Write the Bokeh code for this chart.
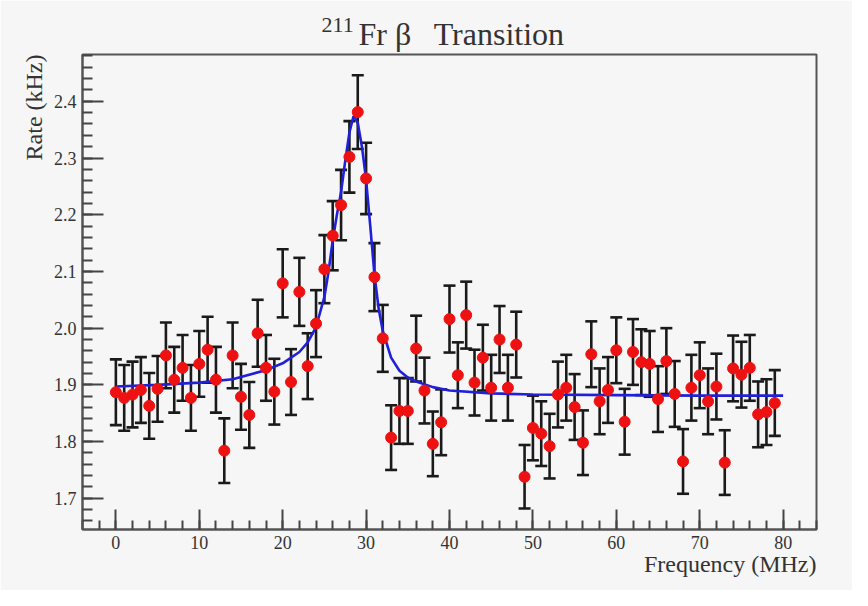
from bokeh.plotting import figure
from bokeh.models import ColumnDataSource, Whisker, TeeHead, Title, Range1d, FixedTicker
from bokeh.embed import file_html
from bokeh.resources import INLINE

# ---------------- data ----------------
freq = list(range(80))
rate = [1.887, 1.877, 1.883, 1.891, 1.863, 1.893, 1.952, 1.909, 1.930, 1.877,
        1.937, 1.962, 1.909, 1.784, 1.952, 1.879, 1.847, 1.991, 1.930, 1.888,
        2.079, 1.905, 2.064, 1.933, 2.008, 2.104, 2.163, 2.217, 2.302, 2.381,
        2.264, 2.090, 1.982, 1.807, 1.854, 1.854, 1.964, 1.890, 1.796, 1.834,
        2.016, 1.917, 2.023, 1.904, 1.948, 1.895, 1.980, 1.895, 1.971, 1.738,
        1.824, 1.814, 1.792, 1.883, 1.895, 1.861, 1.798, 1.954, 1.871, 1.891,
        1.961, 1.835, 1.958, 1.940, 1.937, 1.875, 1.942, 1.884, 1.765, 1.895,
        1.917, 1.871, 1.897, 1.763, 1.929, 1.918, 1.930, 1.848, 1.852, 1.868]
rate_err = [0.058, 0.058, 0.058, 0.058, 0.058, 0.058, 0.058, 0.058, 0.058, 0.058,
            0.058, 0.058, 0.058, 0.057, 0.058, 0.058, 0.058, 0.059, 0.058, 0.058,
            0.060, 0.058, 0.060, 0.058, 0.059, 0.060, 0.061, 0.062, 0.063, 0.065,
            0.063, 0.060, 0.059, 0.057, 0.058, 0.058, 0.058, 0.058, 0.057, 0.058,
            0.059, 0.058, 0.059, 0.058, 0.058, 0.058, 0.059, 0.058, 0.058, 0.056,
            0.057, 0.057, 0.057, 0.058, 0.058, 0.058, 0.057, 0.058, 0.058, 0.058,
            0.058, 0.058, 0.058, 0.058, 0.058, 0.058, 0.058, 0.058, 0.057, 0.058,
            0.058, 0.058, 0.058, 0.057, 0.058, 0.058, 0.058, 0.058, 0.058, 0.058]

# fitted curve
fit_x = [0, 5, 10, 14, 18, 20, 22, 23, 24, 25, 25.5, 26, 26.5, 27, 27.5, 28,
         28.5, 29, 29.5, 30, 30.5, 31, 31.5, 32, 33, 34, 35, 36, 38, 40, 45,
         50, 60, 70, 80]
fit_y = [1.897, 1.900, 1.904, 1.910, 1.926, 1.938, 1.958, 1.975, 2.002, 2.055,
         2.100, 2.155, 2.200, 2.240, 2.295, 2.345, 2.374, 2.362, 2.320, 2.262,
         2.180, 2.095, 2.035, 1.995, 1.948, 1.925, 1.913, 1.906, 1.896, 1.890,
         1.885, 1.883, 1.882, 1.881, 1.881]

x_ticks = [0, 10, 20, 30, 40, 50, 60, 70, 80]
y_ticks = [1.7, 1.8, 1.9, 2.0, 2.1, 2.2, 2.3, 2.4]

# ---------------- figure ----------------
BG = "#f6f6f6"
FONT = "Liberation Serif"
TXT = "#333333"
W, H = 852, 590
FL = 82   # frame left in canvas px

p = figure(width=W, height=H, output_backend="svg", toolbar_location=None,
           x_range=Range1d(-4, 84), y_range=Range1d(1.645, 2.4825),
           min_border_left=FL, min_border_right=36, min_border_top=54,
           min_border_bottom=61)
p.background_fill_color = BG
p.border_fill_color = BG
p.outline_line_color = "#555555"
p.outline_line_width = 2
p.grid.visible = False

for ax in (p.xaxis[0], p.yaxis[0]):
    ax.axis_line_color = "#555555"
    ax.axis_line_width = 2
    ax.major_tick_line_color = "#444444"
    ax.minor_tick_line_color = "#444444"
    ax.major_tick_line_width = 2
    ax.minor_tick_line_width = 2
    ax.major_tick_out = 0
    ax.minor_tick_out = 0
    ax.major_label_text_font = FONT
    ax.major_label_text_font_size = "18px"
    ax.major_label_text_color = TXT

p.xaxis.ticker = FixedTicker(ticks=x_ticks, minor_ticks=list(range(-4, 85, 2)))
p.yaxis.ticker = FixedTicker(ticks=y_ticks,
                             minor_ticks=[round(1.64 + 0.02 * i, 2) for i in range(43)])
p.xaxis.major_tick_in = 20
p.xaxis.minor_tick_in = 9
p.yaxis.major_tick_in = 21
p.yaxis.minor_tick_in = 10
p.xaxis.major_label_standoff = 6
p.yaxis.major_label_standoff = 6
p.yaxis.major_label_overrides = {v: f"{v:.1f}" for v in y_ticks}

# error bars
src = ColumnDataSource(dict(x=freq, y=rate,
                            lo=[r - e for r, e in zip(rate, rate_err)],
                            hi=[r + e for r, e in zip(rate, rate_err)]))
wh = Whisker(base="x", upper="hi", lower="lo", source=src, dimension="height",
             line_color="#1a1a1a", line_width=2.6,
             upper_head=TeeHead(size=12, line_color="#1a1a1a", line_width=2.6),
             lower_head=TeeHead(size=12, line_color="#1a1a1a", line_width=2.6))
p.add_layout(wh)

# fit curve
p.line(fit_x, fit_y, line_color="#2020d8", line_width=2.6)

# points
p.scatter("x", "y", source=src, size=11, fill_color="#ee1111", line_color="#ee1111")

# ---------------- texts (titles in the side panels) ----------------
p.title = None
p.add_layout(Title(text="Fr β\u2002\u2009Transition", align="left", offset=358 - FL,
                   standoff=5, text_font=FONT, text_font_size="32px",
                   text_font_style="normal", text_color=TXT), "above")
p.add_layout(Title(text="211", align="left", offset=321 - FL,
                   standoff=-40, text_font=FONT, text_font_size="22px",
                   text_font_style="normal", text_color=TXT), "above")
p.add_layout(Title(text="Rate (kHz)", align="right", standoff=8,
                   text_font=FONT, text_font_size="24px",
                   text_font_style="normal", text_color=TXT), "left")
p.add_layout(Title(text="Frequency (MHz)", align="right", standoff=-5,
                   text_font=FONT, text_font_size="24px",
                   text_font_style="normal", text_color=TXT), "below")

open("out.html", "w").write(file_html(p, INLINE))
